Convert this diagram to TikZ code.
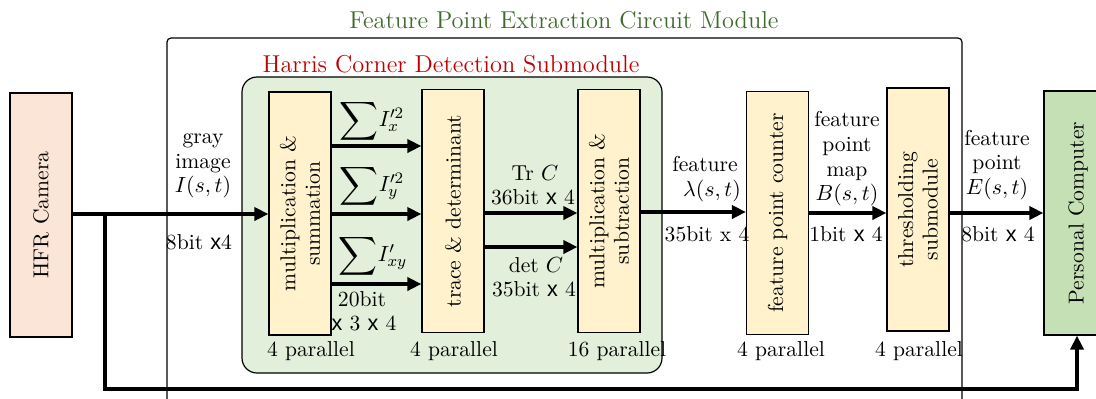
\documentclass[tikz,border=0pt]{standalone}
\usepackage{fontspec}
\newfontfamily\arialf{Liberation Sans}
\usetikzlibrary{arrows.meta}
\definecolor{titlegreen}{HTML}{3F6A2E}
\definecolor{harrisred}{HTML}{C00000}
\definecolor{stagefill}{HTML}{FFF2CC}
\definecolor{camfill}{HTML}{FBE5D6}
\definecolor{subfill}{HTML}{E2EFDA}
\definecolor{pcfill}{HTML}{C5E0B4}
\newcommand{\bx}{{\arialf x}}
\newcommand{\bigsum}{\vcenter{\hbox{\scalebox{1.35}{$\displaystyle\sum$}}}}
\begin{document}
\begin{tikzpicture}[x=0.5pt,y=-0.5pt,
  every node/.style={font=\fontsize{10.8}{12.3}\selectfont, inner sep=0pt},
  stagebox/.style={draw, line width=0.6pt, fill=stagefill, minimum width=31pt, minimum height=121.5pt},
  cambox/.style={draw, line width=0.6pt, fill=camfill, minimum width=31pt, minimum height=122pt},
  pcbox/.style={draw, line width=0.6pt, fill=pcfill, minimum width=33pt, minimum height=122pt},
  vlabel/.style={rotate=90, align=center},
  lbl/.style={align=center},
  titletext/.style={font=\fontsize{12.2}{14}\selectfont},
  flow/.style={line width=2.2pt, -{Triangle[length=7pt,width=6.5pt]}},
  plain/.style={line width=2.2pt}]

\useasboundingbox (0,0) rectangle (1096,398);
\clip (0,0) rectangle (1096,398);

% outer circuit module frame (open at the bottom)
\draw[line width=0.6pt, rounded corners=2pt] (167,420) -- (167,38) -- (962,38) -- (962,420);
\node[titletext, text=titlegreen] (modtitle) at (564,20) {Feature Point Extraction Circuit Module};

% Harris corner detection submodule
\node[draw, line width=0.6pt, rounded corners=7.5pt, fill=subfill, minimum width=210pt, minimum height=148pt] (harris) at (452,225) {};
\node[titletext, text=harrisred] (hartitle) at (451,64) {Harris Corner Detection Submodule};

% processing blocks
\node[cambox] (cam) at (41,215) {};
\node[vlabel] (camtxt) at (cam) {HFR Camera};

\node[stagebox] (b1) at (300,213.5) {};
\node[vlabel] (b1txt) at (b1) {multiplication \&\\ summation};

\node[stagebox] (b2) at (453,211) {};
\node[vlabel] (b2txt) at (b2) {trace \& determinant};

\node[stagebox] (b3) at (609,211) {};
\node[vlabel] (b3txt) at (b3) {multiplication \&\\ subtraction};

\node[stagebox] (b4) at (777.5,213) {};
\node[vlabel] (b4txt) at (b4) {feature point counter};

\node[stagebox] (b5) at (918,209.5) {};
\node[vlabel] (b5txt) at (b5) {thresholding\\ submodule};

\node[pcbox] (pc) at (1077,213) {};
\node[vlabel] (pctxt) at (1078,213) {Personal Computer};

% data paths
\coordinate (split) at (105,214);
\coordinate (fbl) at (105,389);
\coordinate (fbr) at (pc.south |- 0,389);
\draw[flow] (cam.east |- 0,214) -- (b1.west |- 0,214);
\draw[flow, line join=miter] (split) -- (fbl) -- (fbr) -- (pc.south);

\draw[flow] (b1.east |- 0,146) -- (b2.west |- 0,146);
\draw[flow] (b1.east |- 0,214) -- (b2.west |- 0,214);
\draw[flow] (b1.east |- 0,284) -- (b2.west |- 0,284);

\draw[flow] (b2.east |- 0,213) -- (b3.west |- 0,213);
\draw[flow] (b2.east |- 0,247) -- (b3.west |- 0,247);

\draw[flow] (b3.east |- 0,212) -- (b4.west |- 0,212);
\draw[flow] (b4.east |- 0,213) -- (b5.west |- 0,213);
\draw[flow] (b5.east |- 0,213) -- (pc.west |- 0,213);

% signal labels
\node[lbl] (gray) at (203,166) {gray\\ image\\ $I(s,t)$};
\node (w0) at (199,242) {8bit \bx4};

\node (sxx) at (372,121) {$\bigsum I'^{2}_{x}$};
\node (syy) at (372,186) {$\bigsum I'^{2}_{y}$};
\node (sxy) at (373,256) {$\bigsum I'_{xy}$};
\node (w1a) at (362,299) {20bit};
\node (w1b) at (364,323) {\bx{} 3 \bx{} 4};

\node (trc) at (535,173) {Tr $C$};
\node (w2a) at (533,197) {36bit \bx{} 4};
\node (detc) at (536,265) {det $C$};
\node (w2b) at (534,289) {35bit \bx{} 4};

\node[lbl] (lam) at (705,179) {feature\\ \hspace*{7pt}$\lambda(s,t)$};
\node (w3) at (707,234) {35bit x 4};

\node[lbl] (bmap) at (847,159) {feature\\ point\\ map\\ $B(s,t)$};
\node (w4) at (846,234) {1bit \bx{} 4};

\node[lbl] (emap) at (997,165) {feature\\ point\\ $E(s,t)$};
\node (w5) at (998,234) {8bit \bx{} 4};

% parallelism notes
\node (p1) at (311,351) {4 parallel};
\node (p2) at (454,351) {4 parallel};
\node (p3) at (617,351) {16 parallel};
\node (p4) at (781,351) {4 parallel};
\node (p5) at (919,351) {4 parallel};
\end{tikzpicture}
\end{document}
